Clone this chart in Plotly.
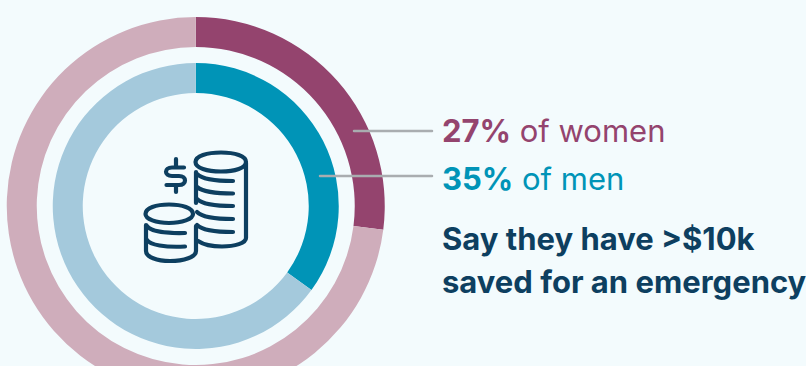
import plotly.graph_objects as go

# Share of each group reporting more than $10k in emergency savings
groups = ["women", "men"]
saved_share = [27, 35]
other_share = [73, 65]

BG = "#f3fbfd"
NAVY = "#0d3f60"
PLUM = "#94446e"
PLUM_LIGHT = "#cfadbb"
TEAL = "#0094b7"
TEAL_LIGHT = "#a4c9dc"
GREY = "#a9adb0"
FONT = "Inter"

W, H = 806, 412
CX, CY = 195.75, 206


def ring(name, saved, other, radius, hole, colors):
    return go.Pie(
        name=name,
        labels=["Over $10k saved", "Other"],
        values=[saved, other],
        sort=False,
        direction="clockwise",
        rotation=0,
        hole=hole / radius,
        textinfo="none",
        hoverinfo="label+percent",
        showlegend=False,
        marker=dict(colors=colors, line=dict(width=0)),
        domain=dict(
            x=[(CX - radius) / W, (CX + radius) / W],
            y=[(H - CY - radius) / H, (H - CY + radius) / H],
        ),
    )


fig = go.Figure()
fig.add_trace(ring(groups[0], saved_share[0], other_share[0], 189, 159, [PLUM, PLUM_LIGHT]))
fig.add_trace(ring(groups[1], saved_share[1], other_share[1], 143, 113, [TEAL, TEAL_LIGHT]))

# Coin-stack icon, drawn as stroked outlines
icon_paths = [
    # tall stack: top coin and body
    "M195.5,162 C195.5,156 207,152.5 221,152.5 C235,152.5 246,156 246,162 C246,168 235,171.5 221,171.5 C207,171.5 195.5,168 195.5,162 Z",
    "M246,163 L246,238 C246,243 235,246.5 222,246.5 C212,246.5 204,245 198,241",
    "M196,172 L196,203",
    "M197,174 C202,179 215,181 233,181",
    "M197,187 C202,191 215,193.5 233,193.5",
    "M197,199 C202,204 215,206 233,206",
    "M197,212 C202,217 215,219 233,219",
    "M197,225 C202,230 215,232 233,232",
    # short stack: top coin and body
    "M145.5,214 C145.5,208 156,204.5 169,204.5 C182,204.5 193,208 193,214 C193,219 182,223 169,223 C156,223 145.5,219 145.5,214 Z",
    "M146,225 L146,251 C146,257 157,261 170,261 C184,261 196,257 196,251 L196,226",
    "M147,226 C150,231 165,233.5 185,233",
    "M147,240 C150,245 165,247.5 185,246.5",
    # dollar sign
    "M184,167.5 L172,167.5 C164,167.5 164,176 172,176 L179,176 C187,176 187,185 179,185 L166.5,185",
    "M176,159 L176,166",
    "M176,186 L176,192",
]
shapes = [
    dict(type="path", path=p, xref="x", yref="y", line=dict(color=NAVY, width=4.2), layer="above")
    for p in icon_paths
]

# Leader lines from each ring to its label
shapes += [
    dict(type="line", x0=354, x1=432, y0=131, y1=131, xref="x", yref="y", line=dict(color=GREY, width=2.5)),
    dict(type="line", x0=320, x1=432, y0=176, y1=176, xref="x", yref="y", line=dict(color=GREY, width=2.5)),
]


def label(text, y, color):
    return dict(
        x=440, y=y, xref="x", yref="y", text=text, showarrow=False,
        xanchor="left", yanchor="middle", align="left",
        font=dict(family=FONT, size=31, color=color),
    )


annotations = [
    label(f"<b>{saved_share[0]}%</b> of {groups[0]}", 130, PLUM),
    label(f"<b>{saved_share[1]}%</b> of {groups[1]}", 178, TEAL),
    label("<b>Say they have &gt;$10k</b>", 238.5, NAVY),
    label("<b>saved for an emergency</b>", 281, NAVY),
]

fig.update_layout(
    width=W,
    height=H,
    margin=dict(l=0, r=0, t=0, b=0),
    paper_bgcolor=BG,
    plot_bgcolor=BG,
    xaxis=dict(range=[0, W], visible=False, fixedrange=True),
    yaxis=dict(range=[H, 0], visible=False, fixedrange=True),
    shapes=shapes,
    annotations=annotations,
)

# The rings run past the bottom of the page, which crops them; icon strokes get round ends
post = """
document.documentElement.style.overflow = 'hidden';
document.body.style.overflow = 'hidden';
document.body.style.margin = '0';
document.querySelectorAll('.shapelayer path').forEach(function (p) {
  p.style.strokeLinecap = 'round';
  p.style.strokeLinejoin = 'round';
});
"""
fig.write_html("out.html", post_script=post, config=dict(displayModeBar=False))
